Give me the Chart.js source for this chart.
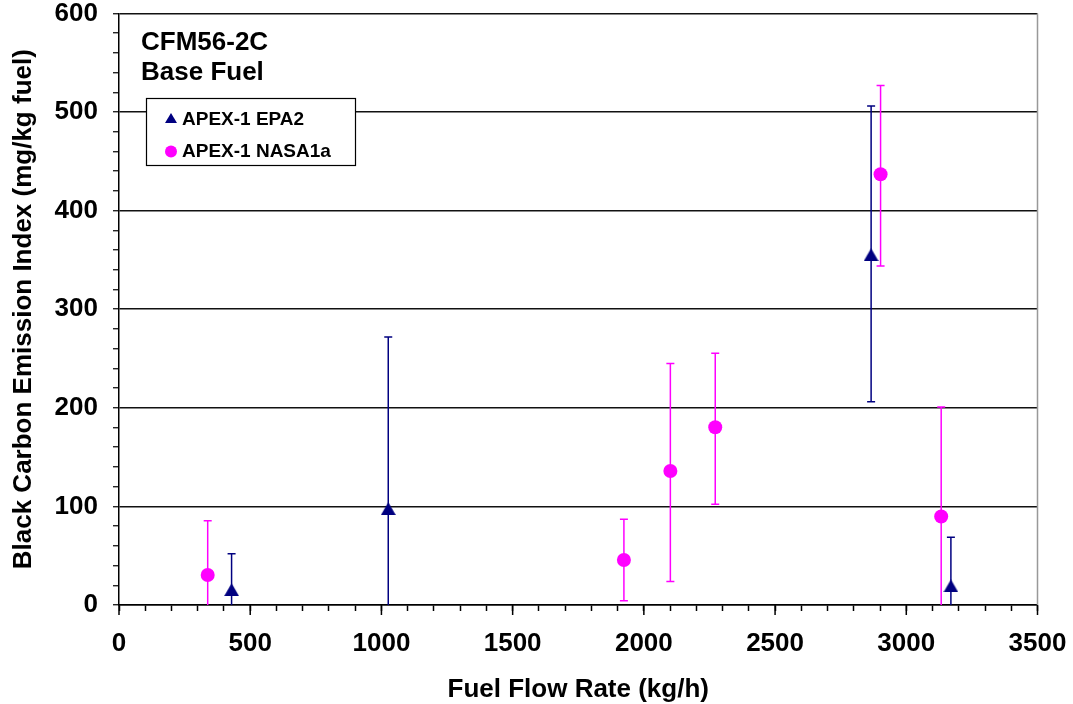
<!DOCTYPE html>
<html><head><meta charset="utf-8">
<script src="https://cdn.jsdelivr.net/npm/chart.js@4/dist/chart.umd.min.js"></script>
<style>html,body{margin:0;padding:0;background:#fff;overflow:hidden}canvas{display:block}</style>
</head><body>
<canvas id="c" width="1073" height="704"></canvas>
<script>
// ---- data ----
const seriesNames = ['APEX-1 EPA2', 'APEX-1 NASA1a'];
const epa2Flow    = [429, 1026, 2866, 3170];
const epa2EI      = [15.5, 97.7, 355.2, 19.3];
const epa2ErrUp   = [36.5, 174, 151, 49.5];
const epa2ErrDown = [36.5, 174, 149, 49.5];
const nasaFlow    = [338, 1924, 2101, 2272, 2902, 3133];
const nasaEI      = [30.4, 45.6, 135.9, 180.2, 436.8, 89.8];
const nasaErrUp   = [55, 41.4, 109, 75, 90, 111];
const nasaErrDown = [55, 41.4, 112, 78, 93, 111];
const xTickLabels = [0, 500, 1000, 1500, 2000, 2500, 3000, 3500];
const yTickLabels = [0, 100, 200, 300, 400, 500, 600];
const annotationLines = ['CFM56-2C', 'Base Fuel'];
const xTitle = 'Fuel Flow Rate (kg/h)';
const yTitle = 'Black Carbon Emission Index (mg/kg fuel)';

const NAVY = '#000080', PINK = '#FF00FF';
const FONT = '"Liberation Sans", Arial, sans-serif';

function triangleIcon(w, h, color) {
  const c = document.createElement('canvas');
  c.width = w; c.height = h;
  const g = c.getContext('2d');
  g.fillStyle = color;
  g.beginPath(); g.moveTo(w / 2, 0); g.lineTo(w, h); g.lineTo(0, h); g.closePath(); g.fill();
  return c;
}
const triPlot = triangleIcon(15, 13, NAVY);
const triLegend = triangleIcon(12, 10, NAVY);

const toPts = (xs, ys) => xs.map((v, i) => ({x: v, y: ys[i]}));

const errorBars = {
  id: 'errorBars',
  beforeDatasetsDraw(chart) {
    const {ctx, chartArea: a, scales: {x, y}} = chart;
    ctx.save();
    ctx.beginPath(); ctx.rect(a.left, a.top - 3, a.right - a.left, a.bottom - a.top + 3); ctx.clip();
    chart.data.datasets.forEach(ds => {
      ctx.strokeStyle = ds.errColor; ctx.lineWidth = 1.5;
      ds.data.forEach((p, i) => {
        const px = x.getPixelForValue(p.x);
        const top = y.getPixelForValue(p.y + ds.errUp[i]);
        const bot = y.getPixelForValue(p.y - ds.errDown[i]);
        ctx.beginPath();
        ctx.moveTo(px, top); ctx.lineTo(px, bot);
        ctx.moveTo(px - 4, top); ctx.lineTo(px + 4, top);
        ctx.moveTo(px - 4, bot); ctx.lineTo(px + 4, bot);
        ctx.stroke();
      });
    });
    ctx.restore();
  }
};

const decorations = {
  id: 'decorations',
  afterDraw(chart) {
    const {ctx, chartArea: a, scales: {x}} = chart;
    ctx.save();
    // right frame
    ctx.strokeStyle = '#999'; ctx.lineWidth = 1.5;
    ctx.beginPath(); ctx.moveTo(a.right, a.top); ctx.lineTo(a.right, a.bottom); ctx.stroke();
    // longer major x ticks
    ctx.strokeStyle = '#000'; ctx.lineWidth = 1.5;
    x.ticks.forEach(t => {
      if (xTickLabels.includes(t.value)) {
        const px = x.getPixelForValue(t.value);
        ctx.beginPath(); ctx.moveTo(px, a.bottom); ctx.lineTo(px, a.bottom + 10); ctx.stroke();
      }
    });
    // annotation
    ctx.fillStyle = '#000';
    ctx.font = 'bold 26px ' + FONT;
    ctx.textBaseline = 'alphabetic'; ctx.textAlign = 'left';
    annotationLines.forEach((s, i) => ctx.fillText(s, a.left + 22, 50 + i * 30));
    // legend
    const lx = a.left + 27, ly = 98, lw = 209, lh = 67;
    ctx.fillStyle = '#fff'; ctx.fillRect(lx, ly, lw, lh);
    ctx.strokeStyle = '#000'; ctx.lineWidth = 1.2; ctx.strokeRect(lx + 0.5, ly + 0.5, lw, lh);
    ctx.font = 'bold 19px ' + FONT; ctx.fillStyle = '#000';
    chart.data.datasets.forEach((ds, i) => {
      const cy = ly + 20 + i * 32;
      if (ds.pointStyle === 'circle') {
        ctx.fillStyle = ds.backgroundColor;
        ctx.beginPath(); ctx.arc(lx + 25, cy + 1.5, 6, 0, Math.PI * 2); ctx.fill();
      } else {
        ctx.drawImage(triLegend, lx + 25 - 6, cy - 5);
      }
      ctx.fillStyle = '#000';
      ctx.fillText(ds.label, lx + 36, cy + 6.5);
    });
    ctx.restore();
  }
};

new Chart(document.getElementById('c'), {
  type: 'scatter',
  data: {
    datasets: [
      { label: seriesNames[0], data: toPts(epa2Flow, epa2EI), errUp: epa2ErrUp, errDown: epa2ErrDown,
        errColor: NAVY, pointStyle: triPlot, pointRadius: 8, backgroundColor: NAVY, borderColor: NAVY, borderWidth: 0 },
      { label: seriesNames[1], data: toPts(nasaFlow, nasaEI), errUp: nasaErrUp, errDown: nasaErrDown,
        errColor: PINK, pointStyle: 'circle', pointRadius: 7, backgroundColor: PINK, borderColor: PINK, borderWidth: 0 }
    ]
  },
  options: {
    responsive: false,
    animation: false,
    events: [],
    layout: { padding: { left: 0, top: 13.4, right: 35.5, bottom: 0 } },
    plugins: { legend: { display: false }, tooltip: { enabled: false } },
    scales: {
      x: {
        type: 'linear', min: 0, max: 3500,
        afterFit(s) { s.height = 99; s.paddingLeft = 0; s.paddingRight = 0; },
        ticks: {
          stepSize: 100, autoSkip: false, maxRotation: 0, padding: 20, color: '#000',
          font: { family: FONT, size: 26, weight: 'bold', lineHeight: 1 },
          callback: v => xTickLabels.includes(v) ? String(v) : ''
        },
        grid: { drawOnChartArea: false, drawTicks: true, tickLength: 6, tickColor: '#000', tickWidth: 1.5 },
        border: { color: '#000', width: 1.5 },
        title: { display: true, text: xTitle, color: '#000', padding: { top: 0, bottom: -1 },
                 font: { family: FONT, size: 26, weight: 'bold', lineHeight: 1.2 } }
      },
      y: {
        type: 'linear', min: 0, max: 600,
        afterFit(s) { s.width = 119; s.paddingTop = 0; s.paddingBottom = 0; },
        ticks: {
          stepSize: 20, autoSkip: false, padding: 15, color: '#000',
          font: { family: FONT, size: 26, weight: 'bold', lineHeight: 1 },
          callback: v => yTickLabels.includes(v) ? String(v) : ''
        },
        grid: {
          drawTicks: true, tickLength: 6, tickColor: '#000', tickWidth: 1.2, lineWidth: 1.5,
          color: c => (c.tick && yTickLabels.includes(c.tick.value)) ? '#111' : 'rgba(0,0,0,0)'
        },
        border: { color: '#000', width: 1.5 },
        title: { display: true, text: yTitle, color: '#000', padding: { top: 8.6, bottom: 0 },
                 font: { family: FONT, size: 26, weight: 'bold', lineHeight: 1.2 } }
      }
    }
  },
  plugins: [errorBars, decorations]
});
</script>
</body></html>
